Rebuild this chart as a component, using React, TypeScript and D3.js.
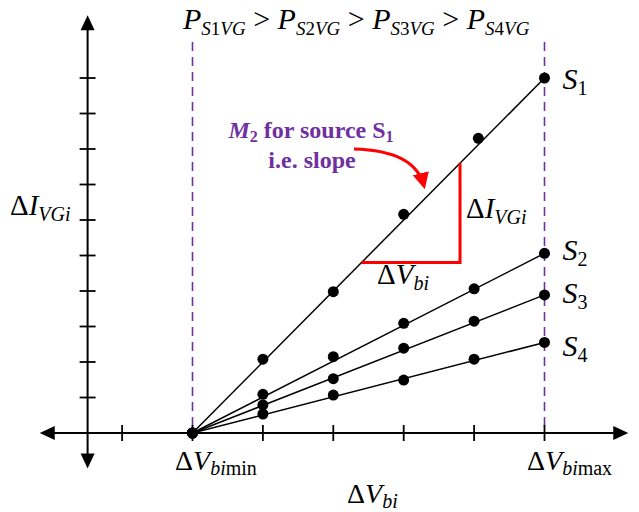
import React from "react";
import * as d3 from "d3";

// Normalised bias-voltage steps (0 = ΔV_bimin, 5 = ΔV_bimax)
const stepsS1 = [0, 1, 2, 3, 4.06, 5];
const stepsOthers = [0, 1, 2, 3, 4, 5];

// ΔI_VGi readings for each source
const s1Values = [0, 2.08, 3.98, 6.16, 8.3, 10.0];
const s2Values = [0, 1.09, 2.15, 3.09, 4.06, 5.06];
const s3Values = [0, 0.79, 1.53, 2.39, 3.15, 3.89];
const s4Values = [0, 0.535, 1.07, 1.49, 2.08, 2.55];

const seriesNames = ["1", "2", "3", "4"];

const xTicks = [-1, 0, 1, 2, 3, 4, 5];
const yTicks = [1, 2, 3, 4, 5, 6, 7, 8, 9, 10];

const FONT = "'Liberation Serif', 'Times New Roman', serif";
const PURPLE = "#7030A0";
const RED = "#FF0000";

const W = 639;
const H = 512;

export default function App() {
  const x = d3.scaleLinear().domain([0, 5]).range([192.5, 544.5]);
  const y = d3.scaleLinear().domain([0, 10]).range([433, 78]);

  const series = [
    { name: seriesNames[0], xs: stepsS1, ys: s1Values },
    { name: seriesNames[1], xs: stepsOthers, ys: s2Values },
    { name: seriesNames[2], xs: stepsOthers, ys: s3Values },
    { name: seriesNames[3], xs: stepsOthers, ys: s4Values },
  ];

  const line = d3
    .line<[number, number]>()
    .x((d) => x(d[0]))
    .y((d) => y(d[1]));

  // axis extents in data units
  const xAxisFrom = -2.17;
  const xAxisTo = 6.19;
  const yAxisAt = -1.49;
  const yAxisFrom = -1.0;
  const yAxisTo = 11.77;

  const ax = x(yAxisAt);
  const ay = y(0);

  // triangle illustrating slope of S1
  const s1Slope = s1Values[s1Values.length - 1] / stepsS1[stepsS1.length - 1];
  const triX0 = 2.4;
  const triX1 = 3.8;
  const triP0: [number, number] = [x(triX0), y(s1Slope * triX0)];
  const triCorner: [number, number] = [x(triX1), y(s1Slope * triX0)];
  const triP1: [number, number] = [x(triX1), y(s1Slope * triX1)];

  const labelY = [s1Values[5], s2Values[5], s3Values[5], s4Values[5]];
  const labelOffsets = [11, 7, 8, 14];

  return (
    <svg
      width={W}
      height={H}
      viewBox={`0 0 ${W} ${H}`}
      style={{ position: "absolute", left: 0, top: 0, background: "#fff" }}
      fontFamily={FONT}
    >
      <defs>
        <marker
          id="redHead"
          viewBox="0 0 10 10"
          refX="8"
          refY="5"
          markerWidth="5.5"
          markerHeight="5.5"
          markerUnits="strokeWidth"
          orient="auto"
        >
          <path d="M0,0 L10,5 L0,10 Z" fill={RED} />
        </marker>
      </defs>

      {/* dashed bounds */}
      {[0, 5].map((v) => (
        <line
          key={v}
          x1={x(v)}
          x2={x(v)}
          y1={42}
          y2={ay}
          stroke={PURPLE}
          strokeWidth={1.6}
          strokeDasharray="9,6"
        />
      ))}

      {/* axes */}
      <line x1={x(xAxisFrom) + 10} x2={x(xAxisTo) - 10} y1={ay} y2={ay} stroke="#000" strokeWidth={2} />
      <line x1={ax} x2={ax} y1={y(yAxisTo) + 10} y2={y(yAxisFrom) - 10} stroke="#000" strokeWidth={2} />
      {/* arrowheads */}
      <path
        d={`M${x(xAxisTo)},${ay} L${x(xAxisTo) - 15},${ay - 7} L${x(xAxisTo) - 15},${ay + 7} Z`}
        fill="#000"
      />
      <path
        d={`M${x(xAxisFrom)},${ay} L${x(xAxisFrom) + 15},${ay - 7} L${x(xAxisFrom) + 15},${ay + 7} Z`}
        fill="#000"
      />
      <path
        d={`M${ax},${y(yAxisTo)} L${ax - 7},${y(yAxisTo) + 15} L${ax + 7},${y(yAxisTo) + 15} Z`}
        fill="#000"
      />
      <path
        d={`M${ax},${y(yAxisFrom)} L${ax - 7},${y(yAxisFrom) - 15} L${ax + 7},${y(yAxisFrom) - 15} Z`}
        fill="#000"
      />
      {xTicks.map((t) => (
        <line key={t} x1={x(t)} x2={x(t)} y1={ay - 8} y2={ay + 8} stroke="#000" strokeWidth={1.8} />
      ))}
      {yTicks.map((t) => (
        <line key={t} x1={ax - 8} x2={ax + 8} y1={y(t)} y2={y(t)} stroke="#000" strokeWidth={1.8} />
      ))}

      {/* source lines and points */}
      {series.map((s) => {
        const pts = s.xs.map((v, i) => [v, s.ys[i]] as [number, number]);
        return (
          <g key={s.name}>
            <path d={line([pts[0], pts[pts.length - 1]]) || ""} fill="none" stroke="#000" strokeWidth={1.5} />
            {pts.map((p, i) => (
              <circle key={i} cx={x(p[0])} cy={y(p[1])} r={5.5} fill="#000" />
            ))}
          </g>
        );
      })}

      {/* source labels */}
      {series.map((s, i) => (
        <text key={s.name} x={x(5) + 18} y={y(labelY[i]) + labelOffsets[i]} fontSize={30} fontStyle="italic">
          S
          <tspan fontStyle="normal" fontSize={20} dy={6}>
            {s.name}
          </tspan>
        </text>
      ))}

      {/* power ordering */}
      <text x={183} y={29} fontSize={30}>
        {[1, 2, 3, 4].map((n, i) => (
          <React.Fragment key={n}>
            {i > 0 && (
              <tspan dy={-6} fontStyle="normal">
                {" > "}
              </tspan>
            )}
            <tspan fontStyle="italic">P</tspan>
            <tspan fontSize={19} dy={6} fontStyle="italic">
              S
            </tspan>
            <tspan fontSize={19}>{n}</tspan>
            <tspan fontSize={19} fontStyle="italic">
              VG
            </tspan>
          </React.Fragment>
        ))}
      </text>

      {/* slope triangle */}
      <path
        d={`M${triP0[0]},${triP0[1]} L${triCorner[0]},${triCorner[1]} L${triP1[0]},${triP1[1]}`}
        fill="none"
        stroke={RED}
        strokeWidth={3}
      />
      <text x={triCorner[0] + 6} y={218} fontSize={29}>
        Δ<tspan fontStyle="italic">I</tspan>
        <tspan fontStyle="italic" fontSize={20} dy={6}>
          VGi
        </tspan>
      </text>
      <text x={377} y={284} fontSize={29}>
        Δ<tspan fontStyle="italic">V</tspan>
        <tspan fontStyle="italic" fontSize={20} dy={6}>
          bi
        </tspan>
      </text>

      {/* annotation */}
      <text x={311} y={138} fontSize={24} fontWeight="bold" fill={PURPLE} textAnchor="middle">
        <tspan fontStyle="italic">M</tspan>
        <tspan fontSize={16} dy={4}>
          2
        </tspan>
        <tspan dy={-4}> for source S</tspan>
        <tspan fontSize={16} dy={4}>
          1
        </tspan>
      </text>
      <text x={312} y={168} fontSize={24} fontWeight="bold" fill={PURPLE} textAnchor="middle">
        i.e. slope
      </text>
      <path
        d="M354,149 C395,150 418,162 424,186"
        fill="none"
        stroke={RED}
        strokeWidth={3}
        markerEnd="url(#redHead)"
      />

      {/* axis titles */}
      <text x={10} y={215} fontSize={29}>
        Δ<tspan fontStyle="italic">I</tspan>
        <tspan fontStyle="italic" fontSize={20} dy={6}>
          VGi
        </tspan>
      </text>
      <text x={175} y={470} fontSize={28}>
        Δ<tspan fontStyle="italic">V</tspan>
        <tspan fontSize={20} dy={5}>
          <tspan fontStyle="italic">bi</tspan>min
        </tspan>
      </text>
      <text x={527} y={470} fontSize={28}>
        Δ<tspan fontStyle="italic">V</tspan>
        <tspan fontSize={20} dy={5}>
          <tspan fontStyle="italic">bi</tspan>max
        </tspan>
      </text>
      <text x={347} y={503} fontSize={28}>
        Δ<tspan fontStyle="italic">V</tspan>
        <tspan fontStyle="italic" fontSize={20} dy={5}>
          bi
        </tspan>
      </text>
    </svg>
  );
}
